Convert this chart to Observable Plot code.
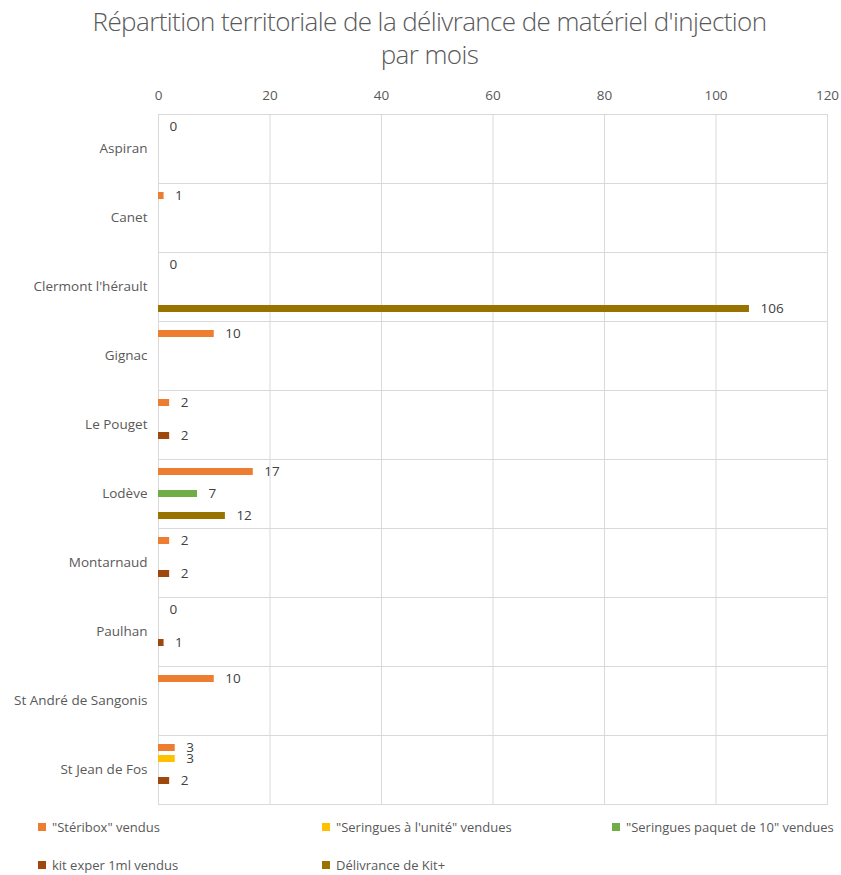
<!DOCTYPE html>
<html>
<head>
<meta charset="utf-8">
<script src="https://cdn.jsdelivr.net/npm/d3@7"></script>
<script src="https://cdn.jsdelivr.net/npm/@observablehq/plot@0.6"></script>
<style>
  body { margin: 0; background: #fff; font-family: "Open Sans", sans-serif; overflow: hidden; }
  #title { width: 841px; height: 75px; box-sizing: border-box; padding-top: 5px; padding-left: 18px;
           text-align: center; font-family: "Open Sans", sans-serif; font-weight: 300; font-size: 26px;
           line-height: 33px; color: #595959; letter-spacing: -0.6px; white-space: nowrap; }
  #legend { position: relative; width: 841px; height: 65px; font-size: 13px; line-height: 14px; color: #595959; }
  .li { position: absolute; display: flex; align-items: center; white-space: nowrap; }
  .sw { width: 8px; height: 8px; margin-right: 6px; }
</style>
</head>
<body>
<div id="title">Répartition territoriale de la délivrance de matériel d'injection<br>par mois</div>
<div id="chart"></div>
<div id="legend"></div>
<script>
const cities = ["Aspiran", "Canet", "Clermont l'hérault", "Gignac", "Le Pouget", "Lodève", "Montarnaud", "Paulhan", "St André de Sangonis", "St Jean de Fos"];
const series = ["\"Stéribox\" vendus", "\"Seringues à l'unité\" vendues", "\"Seringues paquet de 10\" vendues", "kit exper 1ml vendus", "Délivrance de Kit+"];
const colors = ["#ED7D31", "#FFC000", "#70AD47", "#9E480E", "#997300"];
// values per series, aligned with cities (null = no value)
const steribox   = [0, 1, 0, 10, 2, 17, 2, 0, 10, 3];
const seringUnit = [null, null, null, null, null, null, null, null, null, 3];
const seringPaq  = [null, null, null, null, null, 7, null, null, null, null];
const kitExper   = [null, null, null, null, 2, null, 2, 1, null, 2];
const kitPlus    = [null, null, 106, null, null, 12, null, null, null, null];
const xTicks = [0, 20, 40, 60, 80, 100, 120];

const seriesValues = [steribox, seringUnit, seringPaq, kitExper, kitPlus];
const data = [];
cities.forEach((c, i) => {
  series.forEach((s, j) => {
    const v = seriesValues[j][i];
    if (v !== null) data.push({city: c, series: s, value: v});
  });
});

const chart = Plot.plot({
  width: 841,
  height: 735,
  marginLeft: 158,
  marginRight: 14,
  marginTop: 39,
  marginBottom: 6,
  style: {fontFamily: "Open Sans, sans-serif", fontSize: "13.5px", color: "#595959", background: "#fff"},
  x: {domain: [0, 120], axis: "top", ticks: xTicks, tickSize: 0, tickPadding: 15, label: null},
  y: {domain: series, paddingInner: 0.364, paddingOuter: 0.818, axis: null},
  fy: {domain: cities, padding: 0, label: null, tickSize: 0, tickPadding: 11},
  color: {domain: series, range: colors},
  marks: [
    Plot.ruleX(xTicks.slice(1, -1), {stroke: "#d9d9d9", strokeWidth: 1}),
    Plot.frame({stroke: "#d9d9d9", strokeWidth: 1}),
    Plot.barX(data, {fy: "city", y: "series", x: "value", fill: "series"}),
    Plot.text(data, {fy: "city", y: "series", x: "value", text: d => String(d.value),
      textAnchor: "start", dx: 11, fill: "#404040", fontSize: 13.5})
  ]
});
document.getElementById("chart").appendChild(chart);

const legendPos = [[38, 10], [322, 10], [612, 10], [38, 48], [322, 48]];
const legend = document.getElementById("legend");
series.forEach((s, i) => {
  const el = document.createElement("div");
  el.className = "li";
  el.style.left = legendPos[i][0] + "px";
  el.style.top = legendPos[i][1] + "px";
  el.innerHTML = `<span class="sw" style="background:${colors[i]}"></span><span></span>`;
  el.lastChild.textContent = s;
  legend.appendChild(el);
});
</script>
</body>
</html>
